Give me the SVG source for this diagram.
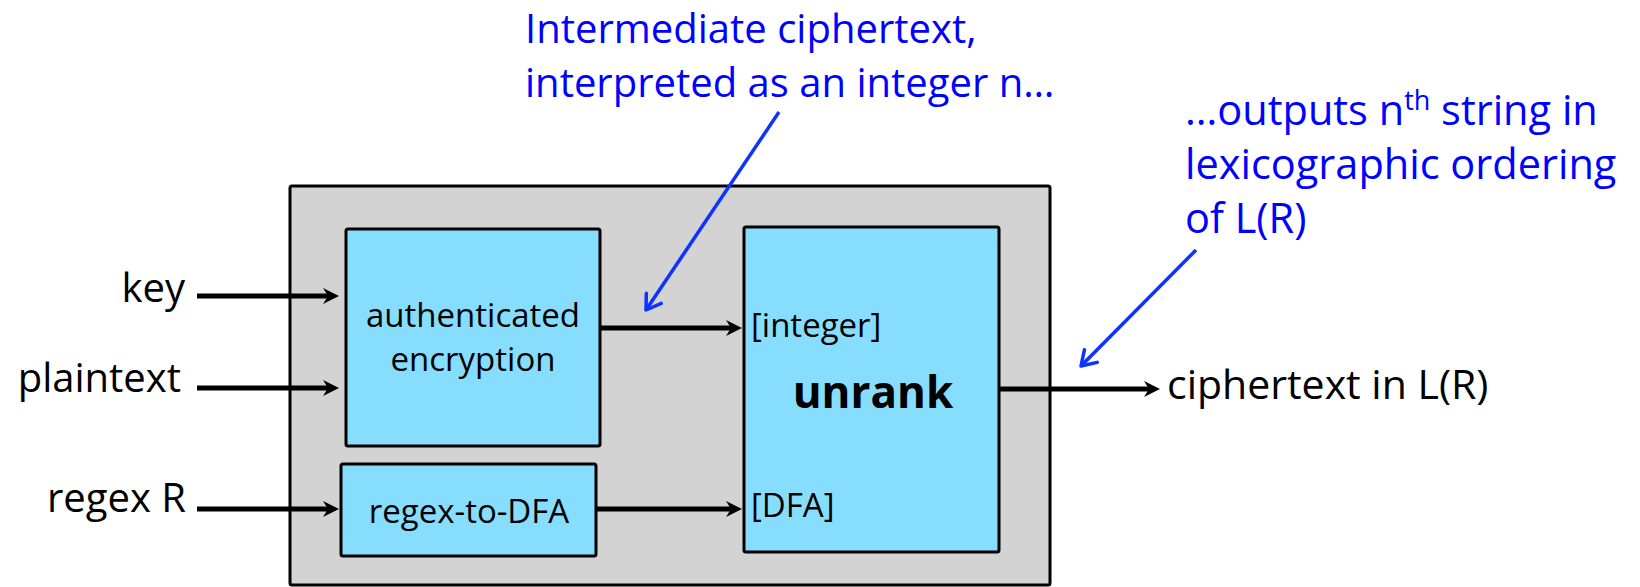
<svg xmlns="http://www.w3.org/2000/svg" width="1640" height="587" viewBox="0 0 1640 587">
<style>
.lbl{font-family:"Open Sans","Liberation Sans",sans-serif;font-size:40px;fill:#000}
.in{font-family:"Open Sans","Liberation Sans",sans-serif;font-size:33px;fill:#000}
.note{font-family:"Open Sans","Liberation Sans",sans-serif;font-size:40px;fill:#0000ff}
.box{fill:#86ddfe;stroke:#000;stroke-width:3}
.conn{stroke:#000;stroke-width:5;fill:none}
.ann{stroke:#0d33ff;stroke-width:3.5;fill:none}
</style>
<defs>
<marker id="ah" markerUnits="userSpaceOnUse" viewBox="0 -9 18 18" markerWidth="18" markerHeight="18" refX="6" refY="0" orient="auto">
<path d="M0,-8 L16,0 L0,8 L5,0 Z" fill="#000"/>
</marker>
<marker id="bh" markerUnits="userSpaceOnUse" viewBox="-18 -12 22 24" markerWidth="22" markerHeight="24" refX="0" refY="0" orient="auto">
<path d="M-14,-9 L0,0 L-14,9" fill="none" stroke="#0d33ff" stroke-width="3.5" stroke-linecap="round" stroke-linejoin="round"/>
</marker>
</defs>
<g id="system">
<rect x="290" y="186" width="760" height="399" fill="#d3d3d3" stroke="#000" stroke-width="3" rx="2"/>
</g>
<g id="auth-enc">
<rect class="box" x="346" y="229" width="254" height="217" rx="2"/>
<text class="in" x="473" y="327" text-anchor="middle">authenticated</text>
<text class="in" x="473" y="371" text-anchor="middle">encryption</text>
</g>
<g id="regex-to-dfa">
<rect class="box" x="341" y="464" width="255" height="92" rx="2"/>
<text class="in" x="469" y="523" text-anchor="middle">regex-to-DFA</text>
</g>
<g id="unrank">
<rect class="box" x="744" y="227" width="255" height="325" rx="2"/>
<text class="in" x="751" y="337">[integer]</text>
<text class="in" x="751" y="517">[DFA]</text>
<text x="873" y="408" text-anchor="middle" style="font-family:'Open Sans','Liberation Sans',sans-serif;font-size:44px;font-weight:bold;fill:#000">unrank</text>
</g>
<g id="inputs">
<text class="lbl" x="185" y="302" text-anchor="end" font-size="41">key</text>
<text class="lbl" x="181" y="392" text-anchor="end" font-size="41">plaintext</text>
<text class="lbl" x="186" y="512" text-anchor="end" font-size="41">regex R</text>
</g>
<g id="output">
<text class="lbl" x="1167" y="399" style="font-size:41px">ciphertext in L(R)</text>
</g>
<g id="note-intermediate">
<text class="note" x="525" y="43">Intermediate ciphertext,</text>
<text class="note" x="525" y="97">interpreted as an integer n…</text>
</g>
<g id="note-outputs" style="font-size:41.5px">
<text class="note" x="1185" y="125" style="font-size:41.5px">…outputs n<tspan font-size="27" dy="-15">th</tspan><tspan dy="15"> string in</tspan></text>
<text class="note" x="1185" y="179" style="font-size:41.5px">lexicographic ordering</text>
<text class="note" x="1185" y="233" style="font-size:41.5px">of L(R)</text>
</g>
<g id="connectors">
<line class="conn" x1="197" y1="296" x2="329" y2="296" marker-end="url(#ah)"/>
<line class="conn" x1="197" y1="388" x2="329" y2="388" marker-end="url(#ah)"/>
<line class="conn" x1="197" y1="509" x2="329" y2="509" marker-end="url(#ah)"/>
<line class="conn" x1="600" y1="328" x2="732" y2="328" marker-end="url(#ah)"/>
<line class="conn" x1="596" y1="509" x2="732" y2="509" marker-end="url(#ah)"/>
<line class="conn" x1="999" y1="389" x2="1150" y2="389" marker-end="url(#ah)"/>
<line class="ann" x1="779" y1="112" x2="646" y2="310" marker-end="url(#bh)"/>
<line class="ann" x1="1196" y1="250" x2="1081" y2="366" marker-end="url(#bh)"/>
</g>
</svg>
